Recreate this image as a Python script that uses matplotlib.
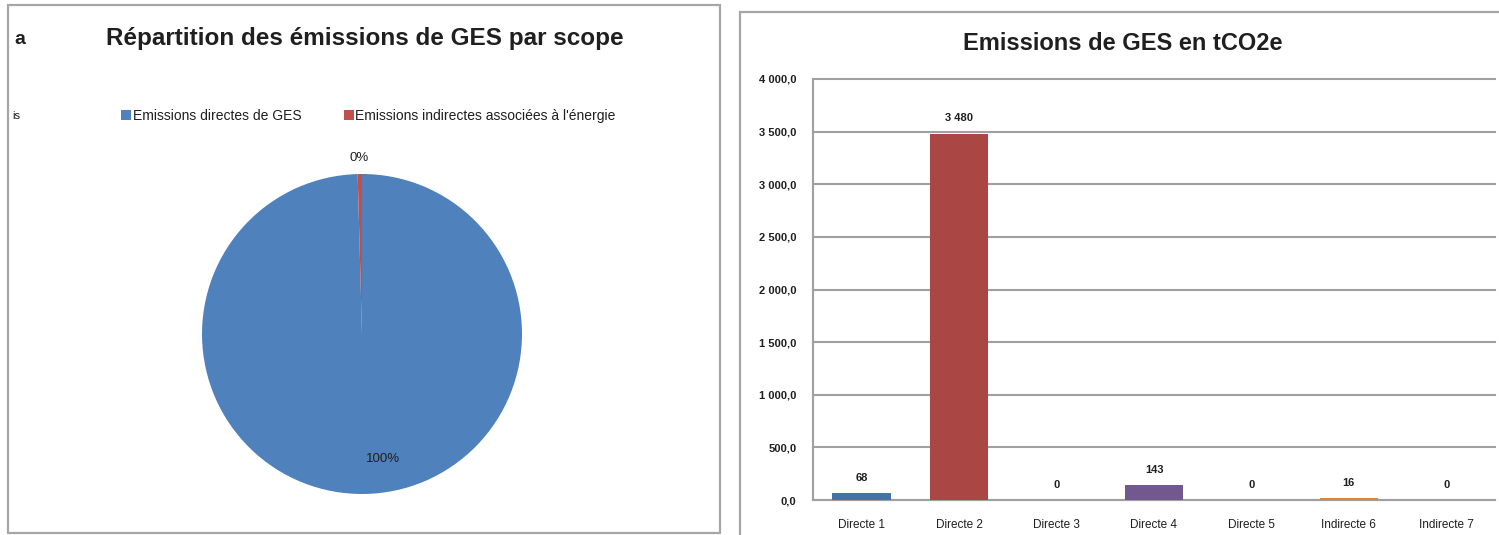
import matplotlib
matplotlib.use("Agg")
import matplotlib.pyplot as plt
from matplotlib.patches import Rectangle
from matplotlib.ticker import FuncFormatter, MultipleLocator
from matplotlib.lines import Line2D
import numpy as np

# -----------------------
# DATA
# -----------------------
scope_labels = ["Emissions directes de GES", "Emissions indirectes associées à l'énergie"]
scope_values = [3691, 16]
scope_colors = ["#4F81BD", "#C0504D"]

categories = ["Directe 1", "Directe 2", "Directe 3", "Directe 4", "Directe 5", "Indirecte 6", "Indirecte 7"]
emissions = [68, 3480, 0, 143, 0, 16, 0]
bar_colors = ["#4572A7", "#AA4643", "#89A54E", "#71588F", "#4198AF", "#DB843D", "#93A9CF"]

plt.rcParams["font.family"] = ["Liberation Sans", "DejaVu Sans"]
W, H = 1499, 535
fig = plt.figure(figsize=(W / 100, H / 100), dpi=100)

def fx(px):
    return px / W

def fy(py):
    return 1 - py / H

border = "#A6A6A6"
txt = "#1F1F1F"

# cadres des deux graphiques
fig.patches.append(Rectangle((fx(8), fy(533)), fx(712), 528 / H, transform=fig.transFigure,
                             fill=False, edgecolor=border, lw=1.6))
fig.patches.append(Rectangle((fx(740), fy(545)), fx(800), 533 / H, transform=fig.transFigure,
                             fill=False, edgecolor=border, lw=1.6))

# -----------------------
# Camembert
# -----------------------
fig.text(fx(365), fy(38), "Répartition des émissions de GES par scope", ha="center", va="center",
         fontsize=17.5, fontweight="bold", color=txt)
fig.text(fx(14), fy(40), "a", ha="left", va="center", fontsize=14, fontweight="bold", color=txt)
fig.text(fx(12), fy(116), "is", ha="left", va="center", fontsize=8, color=txt)

ax1 = fig.add_axes([fx(202), fy(494), fx(320), 320 / H])
wedges, _ = ax1.pie(scope_values, colors=scope_colors, startangle=90, counterclock=False,
                    radius=1, wedgeprops=dict(linewidth=0))
total = sum(scope_values)
for w, v, r in zip(wedges, scope_values, [0.78, 1.1]):
    ang = np.deg2rad((w.theta1 + w.theta2) / 2)
    ax1.text(r * np.cos(ang) + (0.12 if r < 1 else 0), r * np.sin(ang), f"{v / total:.0%}",
             ha="center", va="center", fontsize=9.5, color=txt)
ax1.set_xlim(-1, 1)
ax1.set_ylim(-1, 1)
ax1.set_aspect("equal")
ax1.axis("off")

handles = [Line2D([], [], marker="s", ls="none", markersize=7, markerfacecolor=c, markeredgewidth=0)
           for c in scope_colors]
fig.legend(handles, scope_labels, loc="center", bbox_to_anchor=(fx(368), fy(116)), ncol=2,
           frameon=False, fontsize=10, handletextpad=0.1, columnspacing=3.0, handlelength=0.8,
           labelcolor=txt)

# -----------------------
# Histogramme
# -----------------------
fig.text(fx(1123), fy(43), "Emissions de GES en tCO2e", ha="center", va="center",
         fontsize=17, fontweight="bold", color=txt)

ax2 = fig.add_axes([fx(813), fy(500), fx(682), 421 / H])
x = np.arange(len(categories))
bars = ax2.bar(x, emissions, width=0.6, color=bar_colors, zorder=3)
for b, v in zip(bars, emissions):
    ax2.annotate(f"{v:,.0f}".replace(",", " "), (b.get_x() + b.get_width() / 2, v),
                 xytext=(0, 11), textcoords="offset points", ha="center", va="center",
                 fontsize=8, fontweight="bold", color=txt)
ax2.set_xlim(-0.5, len(categories) - 0.5)
ax2.set_ylim(0, 4000)
ax2.yaxis.set_major_locator(MultipleLocator(500))
ax2.yaxis.set_major_formatter(FuncFormatter(lambda v, p: f"{v:,.1f}".replace(",", " ").replace(".", ",")))
ax2.set_xticks(x)
ax2.set_xticklabels(categories)
ax2.tick_params(axis="y", length=0, pad=12, labelsize=8, labelcolor=txt)
ax2.tick_params(axis="x", length=0, pad=14, labelsize=8.5, labelcolor=txt)
for lbl in ax2.get_yticklabels():
    lbl.set_fontweight("bold")
ax2.grid(axis="y", color="#A0A0A0", lw=1.5, zorder=0)
for line in ax2.get_ygridlines():
    line.set_clip_on(False)
for s in ["top", "right"]:
    ax2.spines[s].set_visible(False)
for s in ["left", "bottom"]:
    ax2.spines[s].set_color("#A0A0A0")
    ax2.spines[s].set_linewidth(1.5)

fig.savefig("out.png", dpi=100)
